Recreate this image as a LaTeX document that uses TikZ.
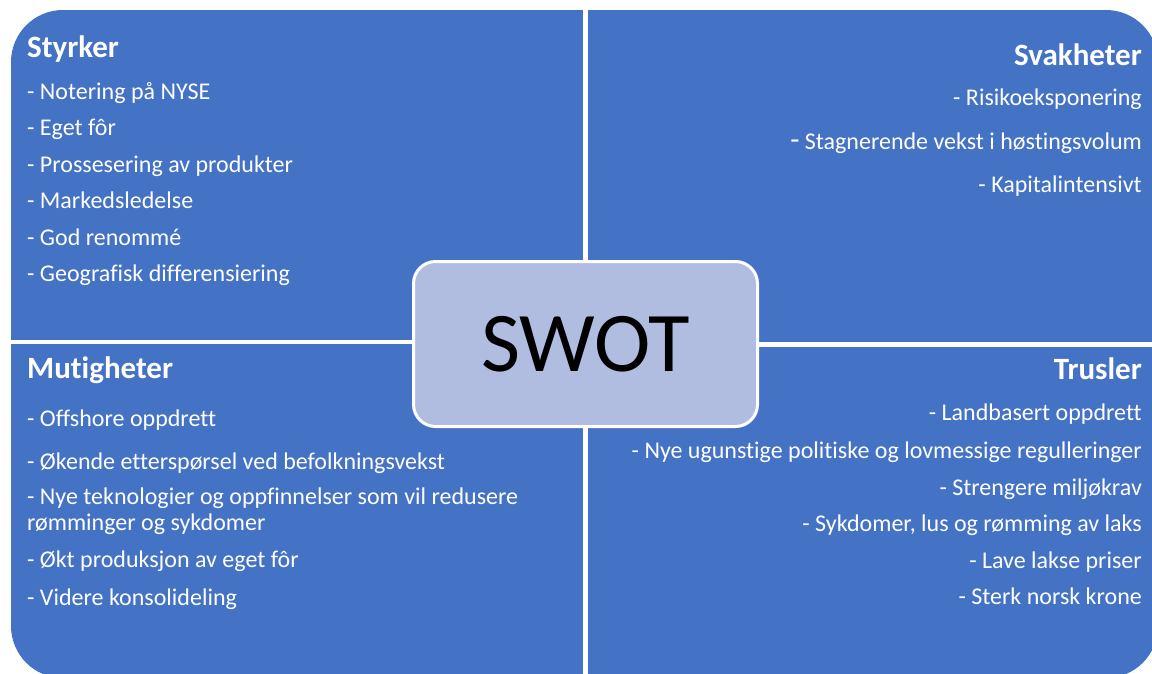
\documentclass[tikz,border=0pt]{standalone}
\usepackage{fontspec}
\setmainfont{Carlito}[Ligatures=NoCommon]

\definecolor{quadblue}{HTML}{4472C4}
\definecolor{corefill}{HTML}{B0BDE0}

\begin{document}
\begin{tikzpicture}[x=1pt,y=-1pt]

      \tikzset{head/.style={text=white, inner sep=0pt, font=\fontsize{31}{36}\selectfont\bfseries},
               item/.style={text=white, inner sep=0pt, font=\fontsize{24}{26}\selectfont},
               core/.style={draw=white, line width=3pt, fill=corefill, rounded corners=22pt,
                            minimum width=344pt, minimum height=165pt, font=\fontsize{85}{100}\selectfont}}
      \clip (0,0) rectangle (1152,673);
      \fill[white] (0,0) rectangle (1152,673);
%% Quadrants
      \fill[quadblue, rounded corners=52pt] (11,10) rectangle (1158,678);
      \fill[white] (583,10) rectangle (587.5,678);
      \fill[white] (11,339.5) rectangle (585,343.5);
      \fill[white] (585,342) rectangle (1158,346.5);
%% Styrker
      \node[head, anchor=base west] (s) at (27,57) {Styrker};
      \node[item, anchor=base west] (s1) at (27,99) {- Notering på NYSE};
      \node[item, anchor=base west] (s2) at (27,135) {- Eget fôr};
      \node[item, anchor=base west] (s3) at (27,172) {- Prossesering av produkter};
      \node[item, anchor=base west] (s4) at (27,208) {- Markedsledelse};
      \node[item, anchor=base west] (s5) at (27,245) {- God renommé};
      \node[item, anchor=base west] (s6) at (27,281) {- Geografisk differensiering};
%% Svakheter
      \node[head, anchor=base east] (w) at (1142,65) {Svakheter};
      \node[item, anchor=base east] (w1) at (1142,105) {- Risikoeksponering};
      \node[item, anchor=base east] (w2) at (1142,149) {{\fontsize{30}{30}\selectfont -} Stagnerende vekst i høstingsvolum};
      \node[item, anchor=base east] (w3) at (1142,192) {- Kapitalintensivt};
%% Mutigheter
      \node[head, anchor=base west] (o) at (27,378) {Mutigheter};
      \node[item, anchor=base west] (o1) at (27,426) {- Offshore oppdrett};
      \node[item, anchor=base west] (o2) at (27,469) {- Økende etterspørsel ved befolkningsvekst};
      \node[item, anchor=west, align=left] (o3) at (27,511) {- Nye teknologier og oppfinnelser som vil redusere\\rømminger og sykdomer};
      \node[item, anchor=base west] (o4) at (27,567) {- Økt produksjon av eget fôr};
      \node[item, anchor=base west] (o5) at (27,605) {- Videre konsolideling};
%% Trusler
      \node[head, anchor=base east] (t) at (1142,379) {Trusler};
      \node[item, anchor=base east] (t1) at (1142,420) {- Landbasert oppdrett};
      \node[item, anchor=base east] (t2) at (1142,458) {- Nye ugunstige politiske og lovmessige regulleringer};
      \node[item, anchor=base east] (t3) at (1142,495) {- Strengere miljøkrav};
      \node[item, anchor=base east] (t4) at (1142,531) {- Sykdomer, lus og rømming av laks};
      \node[item, anchor=base east] (t5) at (1142,568) {- Lave lakse priser};
      \node[item, anchor=base east] (t6) at (1142,604) {- Sterk norsk krone};
%% Centre
      \node[core] (swot) at (585.5,344) {SWOT};

\end{tikzpicture}
\end{document}
